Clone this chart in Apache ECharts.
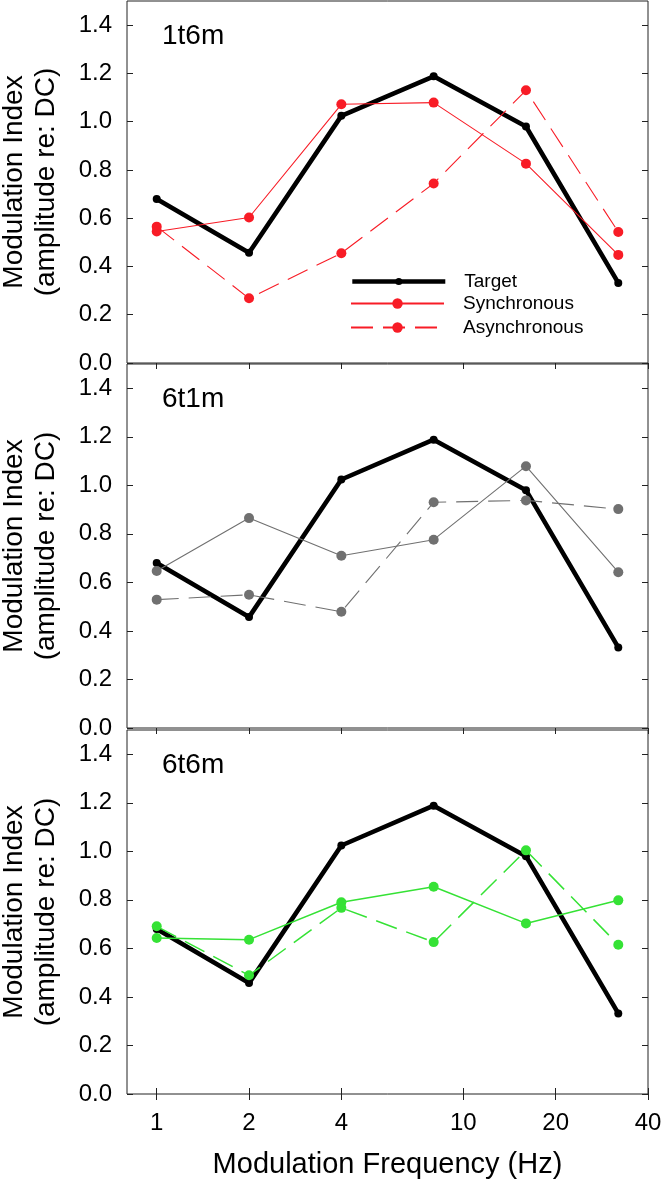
<!DOCTYPE html>
<html><head><meta charset="utf-8">
<script src="https://cdn.jsdelivr.net/npm/echarts@6/dist/echarts.min.js"></script>
<style>html,body{margin:0;padding:0;background:#fff}#c{width:663px;height:1186px}</style>
</head><body><div id="c"></div>
<script>
// ---- data ----
const freqs = [1, 2, 4, 8, 16, 32];
const xTickValues = [1, 2, 4, 10, 20, 40];
const yTickValues = [0, 0.2, 0.4, 0.6, 0.8, 1.0, 1.2, 1.4];
const panelNames = ['1t6m', '6t1m', '6t6m'];
const seriesLabels = ['Target', 'Synchronous', 'Asynchronous'];
const target = [0.68, 0.457, 1.024, 1.188, 0.98, 0.332];
const sync1t6m = [0.545, 0.603, 1.072, 1.079, 0.826, 0.448];
const async1t6m = [0.565, 0.268, 0.455, 0.744, 1.130, 0.543];
const sync6t1m = [0.647, 0.865, 0.71, 0.776, 1.079, 0.642];
const async6t1m = [0.529, 0.549, 0.479, 0.93, 0.938, 0.902];
const sync6t6m = [0.643, 0.636, 0.79, 0.854, 0.703, 0.798];
const async6t6m = [0.691, 0.489, 0.767, 0.626, 1.004, 0.615];

const panelSync = [sync1t6m, sync6t1m, sync6t6m];
const panelAsync = [async1t6m, async6t1m, async6t6m];
const panelColors = ['#f81c26', '#707070', '#35e235'];

const FONT = '"Liberation Sans", Arial, Helvetica, sans-serif';
const pair = arr => freqs.map((f, i) => [f, arr[i]]);

const gridBoxes = [
  {top: 1, height: 362},
  {top: 364, height: 364},
  {top: 730, height: 364}
];

const grid = gridBoxes.map(g => ({
  left: 127, width: 521, top: g.top, height: g.height,
  containLabel: false, outerBoundsMode: 'none',
  show: true, borderColor: '#222', borderWidth: 1, backgroundColor: 'transparent'
}));

const xAxis = [];
const yAxis = [];
const series = [];
const title = [];

gridBoxes.forEach((g, i) => {
  const last = i === 2;
  const baseX = {
    type: 'log', logBase: 10, gridIndex: i, min: 0.8, max: 40,
    axisLine: {show: false}, splitLine: {show: false}, minorTick: {show: false},
    axisTick: {inside: true, length: 6, customValues: xTickValues, lineStyle: {color: '#222', width: 1}},
    axisLabel: {customValues: xTickValues, margin: 17, fontSize: 24, color: '#000', fontFamily: FONT}
  };
  xAxis.push(Object.assign({}, baseX, {
    position: 'bottom',
    axisTick: Object.assign({}, baseX.axisTick, {show: last}),
    axisLabel: Object.assign({}, baseX.axisLabel, {show: last}),
    name: last ? 'Modulation Frequency (Hz)' : '',
    nameLocation: 'middle', nameGap: 56,
    nameTextStyle: {fontSize: 29, color: '#000', fontFamily: FONT}
  }));
  xAxis.push(Object.assign({}, baseX, {
    position: 'top',
    axisLabel: Object.assign({}, baseX.axisLabel, {show: false})
  }));
  const baseY = {
    type: 'value', gridIndex: i, min: 0, max: 1.5,
    axisLine: {show: false}, splitLine: {show: false},
    axisTick: {inside: true, length: 6, customValues: yTickValues, lineStyle: {color: '#222', width: 1}},
    axisLabel: {customValues: yTickValues, formatter: v => v.toFixed(1), margin: 15, fontSize: 24, color: '#000', fontFamily: FONT}
  };
  yAxis.push(Object.assign({}, baseY, {
    position: 'left',
    name: 'Modulation Index\n(amplitude re: DC)',
    nameLocation: 'middle', nameRotate: 90, nameGap: 65,
    nameTextStyle: {fontSize: 28, lineHeight: 32, color: '#000', fontFamily: FONT}
  }));
  yAxis.push(Object.assign({}, baseY, {
    position: 'right',
    axisLabel: Object.assign({}, baseY.axisLabel, {show: false})
  }));

  title.push({
    text: panelNames[i], left: 162, top: g.top + 21, padding: 0,
    textStyle: {fontSize: 28, fontWeight: 'normal', color: '#000', fontFamily: FONT}
  });

  const suffix = i === 0 ? '' : ' ' + panelNames[i];
  const col = panelColors[i];
  series.push({
    name: seriesLabels[0] + suffix, type: 'line', xAxisIndex: 2 * i, yAxisIndex: 2 * i,
    data: pair(target), symbol: 'circle', symbolSize: 8,
    lineStyle: {color: '#000', width: 4.6}, itemStyle: {color: '#000'}, z: 2, animation: false
  });
  series.push({
    name: seriesLabels[1] + suffix, type: 'line', xAxisIndex: 2 * i, yAxisIndex: 2 * i,
    data: pair(panelSync[i]), symbol: 'circle', symbolSize: 10,
    lineStyle: {color: col, width: i === 2 ? 1.5 : 1.1}, itemStyle: {color: col}, z: 3, animation: false
  });
  series.push({
    name: seriesLabels[2] + suffix, type: 'line', xAxisIndex: 2 * i, yAxisIndex: 2 * i,
    data: pair(panelAsync[i]), symbol: 'circle', symbolSize: 10,
    lineStyle: {color: col, width: i === 2 ? 1.5 : 1.1, type: [22, 10]}, itemStyle: {color: col}, z: 4, animation: false
  });
});

const legendRows = [
  {name: seriesLabels[0], top: 272, itemHeight: 9},
  {name: seriesLabels[1], top: 294, itemHeight: 13},
  {name: seriesLabels[2], top: 318, itemHeight: 13}
];
const legend = legendRows.map((r, k) => {
  const l = {
    data: [r.name], left: 345, top: r.top - 5, orient: 'vertical',
    itemWidth: 93, itemHeight: r.itemHeight, selectedMode: false,
    textStyle: {fontSize: 19, color: '#000', fontFamily: FONT, padding: [0, 0, 0, 14]}
  };
  if (k === 0) l.lineStyle = {width: 4.6, color: '#000'};
  return l;
});

const chart = echarts.init(document.getElementById('c'), null, {renderer: 'canvas'});
chart.setOption({
  animation: false,
  backgroundColor: '#fff',
  title, legend, grid, xAxis, yAxis, series
});
</script>
</body></html>
